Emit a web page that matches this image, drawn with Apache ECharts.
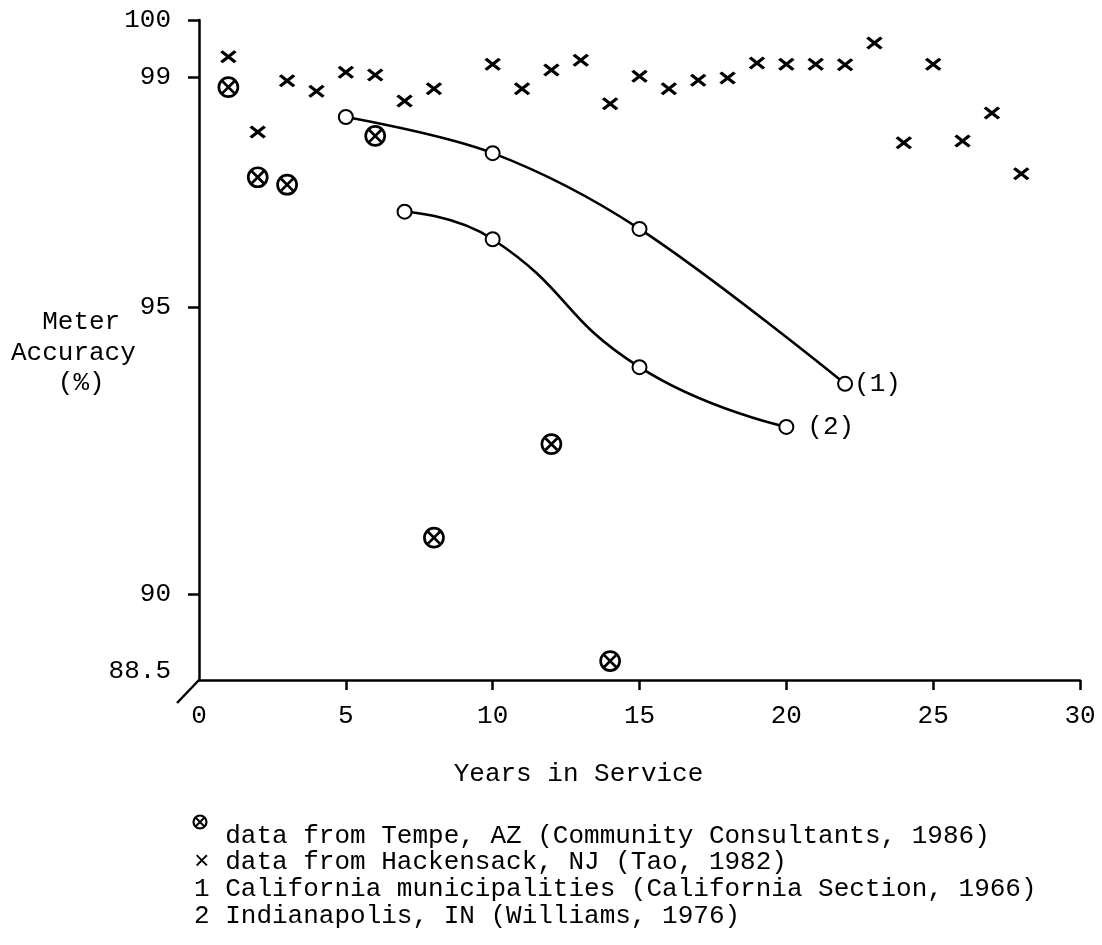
<!DOCTYPE html>
<html>
<head>
<meta charset="utf-8">
<script src="https://cdn.jsdelivr.net/npm/echarts@6/dist/echarts.min.js"></script>
<style>
html,body{margin:0;padding:0;background:#fff;}
#c{width:1102px;height:945px;}
</style>
</head>
<body>
<div id="c"></div>
<script>
// ---- data ----
const xTickValues = [5, 10, 15, 20, 25, 30];
const yLabelValues = [88.5, 90, 95, 99, 100];
const yTickValues = [90, 95, 99, 100];

const tempeYears = [1, 2, 3, 6, 8, 12, 14];
const tempeAcc = [98.83, 97.26, 97.13, 97.98, 90.98, 92.61, 88.83];

const hackYears = [1, 2, 3, 4, 5, 6, 7, 8, 10, 11, 12, 13, 14, 15, 16, 17, 18, 19, 20, 21, 22, 23, 24, 25, 26, 27, 28];
const hackAcc = [99.36, 98.05, 98.94, 98.76, 99.09, 99.04, 98.59, 98.80, 99.23, 98.80, 99.13, 99.30, 98.54, 99.02, 98.80, 98.95, 98.99, 99.25, 99.23, 99.23, 99.22, 99.60, 97.86, 99.23, 97.89, 98.38, 97.32];

const calYears = [5, 10, 15, 22];
const calAcc = [98.31, 97.68, 96.36, 93.66];

const indYears = [7, 10, 15, 20];
const indAcc = [96.66, 96.18, 93.95, 92.91];

const curveLabels = ['(1)', '(2)'];
const yTitleLines = ['  Meter', 'Accuracy', '   (%)'];
const xTitle = 'Years in Service';
const legendLines = [
  '  data from Tempe, AZ (Community Consultants, 1986)',
  '× data from Hackensack, NJ (Tao, 1982)',
  '1 California municipalities (California Section, 1966)',
  '2 Indianapolis, IN (Williams, 1976)'
];

// ---- styling ----
const FONT = '"Liberation Mono", "DejaVu Sans Mono", monospace';
const FS = 26;
const INK = '#000';

function pairs(xs, ys) { return xs.map((x, i) => [x, ys[i]]); }
function withEndLabel(xs, ys, text, dist) {
  return xs.map((x, i) => {
    if (i !== xs.length - 1) return [x, ys[i]];
    return {
      value: [x, ys[i]],
      label: { show: true, position: 'right', distance: dist, formatter: text,
               fontFamily: FONT, fontSize: FS, color: INK }
    };
  });
}

const chart = echarts.init(document.getElementById('c'), null, { renderer: 'canvas' });

const graphics = [
  { type: 'line', shape: { x1: 199, y1: 680, x2: 177, y2: 703 },
    style: { stroke: INK, lineWidth: 2.5 }, z: 10 }
];
const yTitleY = [322, 353, 383];
yTitleLines.forEach((t, i) => graphics.push({
  type: 'text', x: 11, y: yTitleY[i],
  style: { text: t, font: FS + 'px ' + FONT, fill: INK, textAlign: 'left', textVerticalAlign: 'middle' }
}));
const legendY = [836, 862, 889, 916];
legendLines.forEach((t, i) => graphics.push({
  type: 'text', x: 194, y: legendY[i],
  style: { text: t, font: FS + 'px ' + FONT, fill: INK, textAlign: 'left', textVerticalAlign: 'middle' }
}));
// legend key for the Tempe marker (circled cross)
graphics.push({
  type: 'group', x: 200, y: 822,
  children: [
    { type: 'circle', shape: { cx: 0, cy: 0, r: 6.5 }, style: { fill: '#fff', stroke: INK, lineWidth: 2.2 } },
    { type: 'line', shape: { x1: -4, y1: -4, x2: 4, y2: 4 }, style: { stroke: INK, lineWidth: 2 } },
    { type: 'line', shape: { x1: 4, y1: -4, x2: -4, y2: 4 }, style: { stroke: INK, lineWidth: 2 } }
  ]
});

const option = {
  animation: false,
  backgroundColor: '#fff',
  grid: { left: 199, right: 22, top: 20, bottom: 265, containLabel: false, outerBoundsMode: 'none' },
  xAxis: {
    type: 'value', min: 0, max: 30, interval: 5,
    axisLine: { show: true, onZero: false, lineStyle: { color: INK, width: 2.5 } },
    axisTick: { show: true, length: 10, customValues: xTickValues, lineStyle: { color: INK, width: 2.5 } },
    axisLabel: { fontFamily: FONT, fontSize: FS, color: INK, margin: 23 },
    splitLine: { show: false },
    name: xTitle, nameLocation: 'middle', nameGap: 81,
    nameTextStyle: { fontFamily: FONT, fontSize: FS, color: INK, padding: [0, 122, 0, 0] }
  },
  yAxis: {
    type: 'value', min: 88.5, max: 100,
    axisLine: { show: true, onZero: false, lineStyle: { color: INK, width: 2.5 } },
    axisTick: { show: true, length: 11, customValues: yTickValues, lineStyle: { color: INK, width: 2.5 } },
    axisLabel: {
      customValues: yLabelValues, margin: 28,
      fontFamily: FONT, fontSize: FS, color: INK,
      formatter: v => (v === 88.5 ? '{lo|88.5}' : String(v)),
      rich: { lo: { fontFamily: FONT, fontSize: FS, color: INK, padding: [0, 0, 18, 0] } }
    },
    splitLine: { show: false }
  },
  series: [
    {
      name: 'Tempe, AZ', type: 'scatter', data: pairs(tempeYears, tempeAcc),
      symbol: 'path://M10,0 A10,10 0 1 1 10,20 A10,10 0 1 1 10,0 Z M4,4 L16,16 M16,4 L4,16',
      symbolSize: 19,
      itemStyle: { color: '#fff', borderColor: INK, borderWidth: 2.7, opacity: 1 }, z: 5
    },
    {
      name: 'Hackensack, NJ', type: 'scatter', data: pairs(hackYears, hackAcc),
      symbol: 'path://M0,0 L14,11 M14,0 L0,11', symbolSize: [14, 11],
      itemStyle: { color: INK, borderColor: INK, borderWidth: 3.2, opacity: 1 }, z: 5
    },
    {
      name: 'California municipalities', type: 'line', data: withEndLabel(calYears, calAcc, curveLabels[0], 1),
      smooth: 0.35, symbol: 'emptyCircle', symbolSize: 14, showAllSymbol: true,
      lineStyle: { color: INK, width: 2.6 },
      itemStyle: { color: INK, borderColor: INK, borderWidth: 2.4 }, z: 4
    },
    {
      name: 'Indianapolis, IN', type: 'line', data: withEndLabel(indYears, indAcc, curveLabels[1], 13),
      smooth: 0.5, symbol: 'emptyCircle', symbolSize: 14, showAllSymbol: true,
      lineStyle: { color: INK, width: 2.6 },
      itemStyle: { color: INK, borderColor: INK, borderWidth: 2.4 }, z: 4
    }
  ],
  graphic: graphics
};
chart.setOption(option);
</script>
</body>
</html>
